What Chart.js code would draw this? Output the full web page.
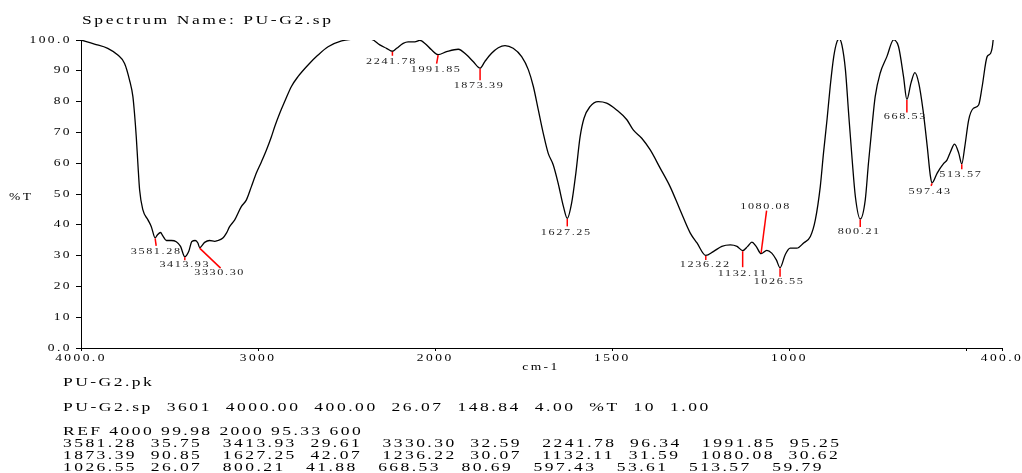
<!DOCTYPE html>
<html>
<head>
<meta charset="utf-8">
<title>PU-G2 IR spectrum</title>
<script src="https://cdn.jsdelivr.net/npm/chart.js@4/dist/chart.umd.min.js"></script>
<style>
  html, body { margin: 0; padding: 0; background: #fff; }
  #wrap { position: relative; width: 1022px; height: 473px; }
  canvas { display: block; }
</style>
</head>
<body>
<div id="wrap"><canvas id="spectrum" width="1022" height="473"></canvas></div>
<script>
// ---- spectrum data: wavenumber (cm-1) and transmittance (%T) ----
const wavenumbers = [
  4000, 3924, 3849, 3792, 3754, 3726, 3707, 3698, 3688, 3679, 3669, 3651, 3622, 3603,
  3581.28, 3569, 3551, 3538, 3518, 3490, 3462, 3438, 3413.93, 3392, 3374, 3355, 3340,
  3330.30, 3302, 3274, 3245, 3227, 3199, 3179, 3161, 3132, 3095, 3066, 3038, 3010,
  2981, 2953, 2925, 2906, 2878, 2850, 2812, 2775, 2718, 2662, 2605, 2529, 2473, 2420,
  2360, 2313, 2275, 2241.78, 2218, 2181, 2153, 2115, 2087, 2058, 2021, 1991.85, 1968,
  1935, 1911, 1893, 1873.39, 1860, 1841, 1822, 1803, 1780, 1756, 1737, 1723, 1709,
  1695, 1681, 1667, 1653, 1638, 1627.25, 1615, 1603, 1591, 1580, 1563, 1540, 1516,
  1488, 1459, 1441, 1417, 1393, 1365, 1337, 1309, 1280, 1261, 1236.22, 1215, 1191,
  1167, 1148, 1132.11, 1118, 1106, 1094, 1080.08, 1064, 1050, 1037, 1026.55, 1012,
  998, 979, 960, 941, 927, 913, 904, 894, 885, 875, 866, 859, 852, 842, 833, 823, 814,
  800.21, 786, 777, 767, 758, 744, 725, 706, 692, 678, 668.53, 657, 646, 635, 623, 611,
  602, 597.43, 583, 564, 555, 545, 534, 522, 513.57, 505, 494, 481, 466, 456, 442, 432,
  425, 412, 400
];
const transmittance = [
  99.98, 98.7, 97.3, 95.1, 92.4, 87.0, 81.6, 76.2, 68.6, 60.0, 51.3, 44.9, 41.6, 39.4,
  35.75, 36.7, 37.5, 36.4, 34.9, 34.9, 34.5, 33.0, 29.61, 31.3, 34.6, 34.9, 34.1,
  32.59, 34.3, 34.9, 34.6, 34.9, 35.7, 37.3, 39.4, 41.6, 45.9, 48.1, 52.4, 56.8,
  60.5, 64.3, 68.6, 71.9, 76.2, 80.0, 84.9, 88.1, 91.9, 95.1, 97.8, 99.7, 100.2, 100.3,
  100.2, 98.4, 97.3, 96.34, 97.3, 98.9, 99.4, 99.4, 99.9, 98.9, 96.8, 95.25, 96.2,
  97.0, 95.1, 93.0, 90.85, 93.0, 95.7, 97.5, 98.2, 97.3, 94.6, 90.3, 84.9, 77.3,
  69.7, 63.2, 59.5, 53.5, 45.9, 42.07, 47.0, 56.8, 68.6, 74.6, 78.4, 80.0, 79.5,
  77.3, 74.1, 70.8, 68.1, 64.3, 58.4, 52.4, 44.9, 37.3, 34.1, 30.07, 31.3, 33.0,
  33.5, 33.0, 31.59, 33.0, 34.4, 33.0, 30.62, 31.7, 30.8, 28.6, 26.07, 30.3,
  32.4, 32.4, 34.1, 36.2, 41.6, 52.4, 63.2, 74.1, 84.9, 94.6, 99.4, 100.3, 98.4, 90.3, 76.2, 61.1, 49.2,
  41.88, 48.1, 60.0, 71.9, 81.6, 89.2, 94.6, 100.1, 97.8, 88.1, 80.69, 86.0, 89.4, 86.0, 77.3, 65.4,
  55.7, 53.61, 56.8, 60.0, 61.1, 63.8, 66.2, 63.2, 59.79, 65.4, 74.1, 77.8, 78.9, 84.9, 94.6, 95.7,
  100.0, 125, 148.84
];

// ---- picked peaks ----
const peakWavenumbers = [3581.28, 3413.93, 3330.30, 2241.78, 1991.85, 1873.39, 1627.25, 1236.22,
                         1132.11, 1080.08, 1026.55, 800.21, 668.53, 597.43, 513.57];
const peakTransmittance = [35.75, 29.61, 32.59, 96.34, 95.25, 90.85, 42.07, 30.07,
                           31.59, 30.62, 26.07, 41.88, 80.69, 53.61, 59.79];

// ---- axis ticks ----
const xTickValues = [4000, 3000, 2000, 1500, 1000, 500, 400];
const xTickLabels = ['4000.0', '3000', '2000', '1500', '1000', '', '400.0'];
const yTickValues = [0, 10, 20, 30, 40, 50, 60, 70, 80, 90, 100];
const yTickLabels = ['0.0', '10', '20', '30', '40', '50', '60', '70', '80', '90', '100.0'];

// ---- report text ----
const spectrumName = 'PU-G2.sp';
const peakFileName = 'PU-G2.pk';
const headerFields = ['PU-G2.sp', '3601', '4000.00', '400.00', '26.07', '148.84', '4.00', '%T', '10', '1.00'];
const refFields = ['REF', '4000', '99.98', '2000', '95.33', '600'];

// marker geometry for each peak: line end offset (dx, dy) and label offset from the line end
const markerLayout = [
  { dx: 1, dy: 8, lx: 0, ly: 6 },      // 3581.28
  { dx: 0, dy: 3.5, lx: 0, ly: 4 },    // 3413.93
  { dx: 21, dy: 20.5, lx: -1, ly: 4.5 },// 3330.30
  { dx: 0, dy: 4.5, lx: -1, ly: 6 },   // 2241.78
  { dx: -1.5, dy: 9, lx: -0.5, ly: 6 },// 1991.85
  { dx: 0, dy: 12, lx: -1, ly: 5 },    // 1873.39
  { dx: 0, dy: 8, lx: -1, ly: 6 },     // 1627.25
  { dx: 0, dy: 4.5, lx: -0.5, ly: 4.5 },// 1236.22
  { dx: 0, dy: 16.5, lx: 0, ly: 6 },   // 1132.11
  { dx: 5.5, dy: -43, lx: -1, ly: -4 },// 1080.08
  { dx: 0, dy: 9, lx: -1, ly: 4.5 },   // 1026.55
  { dx: 0, dy: 8, lx: -1, ly: 5 },     // 800.21
  { dx: 0, dy: 13, lx: -1.5, ly: 4.6 },// 668.53
  { dx: -1, dy: 3, lx: -1, ly: 6 },    // 597.43
  { dx: 0, dy: 5.3, lx: -1, ly: 5 }    // 513.57
];

const SERIF = '"Liberation Serif", "Times New Roman", serif';
const STRETCH = 1.35;   // horizontal stretch of all lettering
const INK = '#000';

// Wavenumber axis: 4000-2000 cm-1 is drawn at half the expansion of 2000-400 cm-1.
const X_START = 4000, X_BREAK = 2000, X_END = 400;
function axisUnits(w) {
  return w >= X_BREAK ? (X_START - w) / 2 : (X_START - X_BREAK) / 2 + (X_BREAK - w);
}
function unitsToWavenumber(u) {
  const half = (X_START - X_BREAK) / 2;
  return u <= half ? X_START - 2 * u : X_BREAK - (u - half);
}
class SplitWavenumberScale extends Chart.LinearScale {
  getPixelForValue(value) {
    return this.getPixelForDecimal(axisUnits(value) / axisUnits(X_END));
  }
  getValueForPixel(pixel) {
    return unitsToWavenumber(this.getDecimalForPixel(pixel) * axisUnits(X_END));
  }
}
SplitWavenumberScale.id = 'splitWavenumber';
SplitWavenumberScale.defaults = Chart.LinearScale.defaults;
Chart.register(SplitWavenumberScale);

// Stretches every glyph run horizontally around its anchor point.
const stretchText = {
  id: 'stretchText',
  beforeDraw(chart) {
    const ctx = chart.ctx;
    if (!ctx.__stretched) {
      const fill = CanvasRenderingContext2D.prototype.fillText;
      ctx.fillText = function (text, x, y) {
        this.save();
        this.translate(x, y);
        this.scale(STRETCH, 1);
        fill.call(this, text, 0, 0);
        this.restore();
      };
      ctx.__stretched = true;
    }
    ctx.letterSpacing = '1.8px';
  }
};

function peakTableLines() {
  const lines = [];
  for (let i = 0; i < peakWavenumbers.length; i += 5) {
    let s = '';
    for (let j = i; j < Math.min(i + 5, peakWavenumbers.length); j++) {
      s += peakWavenumbers[j].toFixed(2).padEnd(9) + peakTransmittance[j].toFixed(2).padEnd(8);
    }
    lines.push(s.trimEnd());
  }
  return lines;
}

const annotations = {
  id: 'annotations',
  afterDatasetsDraw(chart) {
    const ctx = chart.ctx;
    const xs = chart.scales.x, ys = chart.scales.y;
    ctx.save();
    peakWavenumbers.forEach((w, i) => {
      const m = markerLayout[i];
      const px = xs.getPixelForValue(w);
      const py = ys.getPixelForValue(peakTransmittance[i]);
      const ex = px + m.dx, ey = py + m.dy;
      ctx.strokeStyle = '#ff0000';
      ctx.lineWidth = 1.5;
      ctx.beginPath();
      ctx.moveTo(px, py + (m.dy > 0 ? 0.5 : -0.5));
      ctx.lineTo(ex, ey);
      ctx.stroke();
      ctx.fillStyle = '#1a1a1a';
      ctx.font = '9px ' + SERIF;
      ctx.letterSpacing = '1.2px';
      ctx.textAlign = 'center';
      ctx.textBaseline = 'middle';
      ctx.fillText(w.toFixed(2), ex + m.lx, ey + m.ly);
    });
    ctx.restore();
  },
  afterDraw(chart) {
    const ctx = chart.ctx;
    ctx.save();
    ctx.fillStyle = INK;
    ctx.textAlign = 'left';
    ctx.textBaseline = 'alphabetic';

    ctx.font = '13px ' + SERIF;
    ctx.letterSpacing = '1.9px';
    ctx.fillText('Spectrum Name: ' + spectrumName, 82, 24);

    ctx.font = '10px ' + SERIF;
    ctx.letterSpacing = '1.8px';
    ctx.textBaseline = 'middle';
    ctx.fillText('%T', 9, 197);
    ctx.textAlign = 'center';
    ctx.fillText('cm-1', 541, 367);

    ctx.font = '13px ' + SERIF;
    ctx.textAlign = 'left';
    ctx.textBaseline = 'alphabetic';
    const left = 63;
    ctx.letterSpacing = '1.8px';
    ctx.fillText(peakFileName, left, 386);
    ctx.letterSpacing = '1.87px';
    ctx.fillText(headerFields.join('  '), left, 410.5);
    ctx.letterSpacing = '1.8px';
    ctx.fillText(refFields.join(' '), left, 435);
    const rows = peakTableLines();
    const rowY = [446.5, 459, 471];
    rows.forEach((r, i) => ctx.fillText(r, left, rowY[i]));
    ctx.restore();
  }
};

const points = wavenumbers.map((w, i) => ({ x: w, y: transmittance[i] }));

new Chart(document.getElementById('spectrum'), {
  type: 'line',
  data: {
    datasets: [{
      data: points,
      borderColor: '#000',
      borderWidth: 1.3,
      pointRadius: 0,
      fill: false,
      cubicInterpolationMode: 'monotone'
    }]
  },
  options: {
    responsive: false,
    animation: false,
    devicePixelRatio: 1,
    layout: { padding: { left: 0, top: 40, right: 20, bottom: 0 } },
    plugins: { legend: { display: false }, tooltip: { enabled: false }, title: { display: false } },
    scales: {
      x: {
        type: 'splitWavenumber',
        min: X_END,
        max: X_START,
        afterBuildTicks: (scale) => { scale.ticks = xTickValues.map(v => ({ value: v })); },
        afterFit: (scale) => { scale.height = 125; },
        ticks: {
          autoSkip: false,
          maxRotation: 0,
          padding: 1,
          color: INK,
          font: { family: SERIF, size: 10 },
          callback: (v, i) => xTickLabels[i]
        },
        grid: { display: true, drawOnChartArea: false, drawTicks: true, tickLength: 3, color: '#000', lineWidth: 1 },
        border: { display: true, color: '#000', width: 1 }
      },
      y: {
        min: 0,
        max: 100,
        afterBuildTicks: (scale) => { scale.ticks = yTickValues.map(v => ({ value: v })); },
        afterFit: (scale) => { scale.width = 81; },
        ticks: {
          padding: 4,
          color: INK,
          font: { family: SERIF, size: 10 },
          callback: (v, i) => yTickLabels[i]
        },
        grid: { display: true, drawOnChartArea: false, drawTicks: true, tickLength: 5, color: '#000', lineWidth: 1 },
        border: { display: true, color: '#000', width: 1 }
      }
    }
  },
  plugins: [stretchText, annotations]
});
</script>
</body>
</html>
